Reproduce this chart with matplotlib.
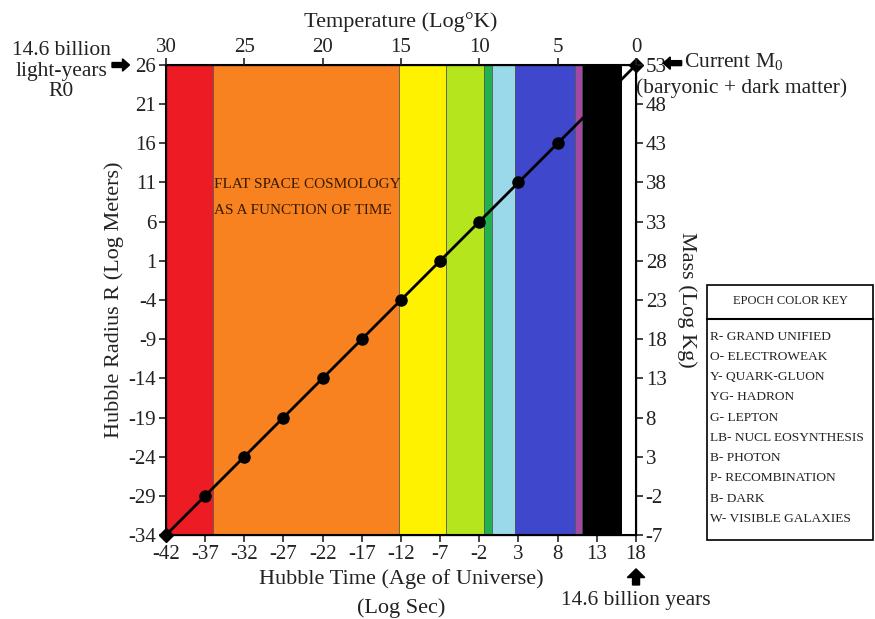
import numpy as np
import matplotlib.pyplot as plt
from matplotlib.patches import FancyArrow

plt.rcParams['font.family'] = ['Liberation Serif', 'DejaVu Serif']
plt.rcParams['axes.unicode_minus'] = False
plt.rcParams['mathtext.fontset'] = 'custom'
plt.rcParams['mathtext.rm'] = 'Liberation Serif'

# Epochen-Baender (Log Sec)
band_edges = [-42, -36, -12.3, -6.3, -1.4, -0.4, 2.6, 10.2, 11.1, 16.2, 18]
band_colors = ['#ed1c24', '#f7821f', '#fff200', '#b5e51d', '#22b14c',
               '#99d9ea', '#3f48cc', '#a349a4', '#000000', '#ffffff']

# Datenpunkte
t_pts = [-37, -32, -27, -22, -17, -12, -7, -2, 3, 8]
r_pts = [-29, -24, -19, -14, -9, -4, 1, 6, 11, 16]
t_ends = [-42, 18]
r_ends = [-34, 26]

x_ticks = [-42, -37, -32, -27, -22, -17, -12, -7, -2, 3, 8, 13, 18]
y_ticks = list(range(-34, 27, 5))
m_ticks = list(range(-7, 54, 5))
temp_ticks = [30, 25, 20, 15, 10, 5, 0]

key_lines = ['R- GRAND UNIFIED', 'O- ELECTROWEAK', 'Y- QUARK-GLUON', 'YG- HADRON',
             'G- LEPTON', 'LB- NUCL EOSYNTHESIS', 'B- PHOTON', 'P- RECOMBINATION',
             'B- DARK', 'W- VISIBLE GALAXIES']

txt = '#222222'
fig = plt.figure(figsize=(8.75, 6.19), dpi=100)
ax = fig.add_axes([0.1897, 0.1357, 0.5371, 0.7593])

for i in range(len(band_colors)):
    ax.axvspan(band_edges[i], band_edges[i + 1], color=band_colors[i], lw=0)
    if 0 < i < len(band_colors) - 1:
        ax.axvline(band_edges[i], color='#555555', lw=0.6)

ax.plot(t_ends, r_ends, color='black', lw=2, zorder=3)
ax.plot(t_pts, r_pts, 'o', color='black', ms=8, zorder=4)
ax.plot(t_ends, r_ends, 'D', color='black', ms=7, zorder=4, clip_on=False)

ax.set_xlim(-42, 18)
ax.set_ylim(-34, 26)
ax.set_xticks(x_ticks)
ax.set_yticks(y_ticks)
ax.tick_params(labelsize=15, colors=txt, length=5, width=1.2, pad=2)
ax.set_ylabel('Hubble Radius R (Log Meters)', fontsize=16, color=txt, labelpad=3)
ax.set_xlabel('Hubble Time (Age of Universe)\n(Log Sec)', fontsize=16, color=txt,
              linespacing=1.6, labelpad=4)
for s in ax.spines.values():
    s.set_linewidth(1.5)

axr = ax.twinx()
axr.set_ylim(-7, 53)
axr.set_yticks(m_ticks)
axr.tick_params(labelsize=15, colors=txt, length=5, width=1.2, pad=2)
axr.set_ylabel('Mass (Log Kg)', fontsize=16, color=txt, rotation=-90, labelpad=22)

axt = ax.twiny()
axt.set_xlim(30, 0)
axt.set_xticks(temp_ticks)
axt.tick_params(labelsize=15, colors=txt, length=5, width=1.2, pad=1)
axt.set_xlabel('Temperature (Log°K)', fontsize=16, color=txt, labelpad=8)

ax.text(-35.9, 10.7, 'FLAT SPACE COSMOLOGY', fontsize=11, color='#3a1a00', va='center')
ax.text(-35.9, 7.4, 'AS A FUNCTION OF TIME', fontsize=11, color='#3a1a00', va='center')

# Pfeile und Anmerkungen
fig.text(0.07, 0.885, '14.6 billion\nlight-years\nR0', fontsize=15.5, color=txt,
         ha='center', va='center', linespacing=1.1)
fig.patches.append(FancyArrow(0.128, 0.895, 0.012, 0, width=0.008, head_width=0.02,
                              head_length=0.008, color='black', transform=fig.transFigure))
fig.text(0.782, 0.9, 'Current M$_0$', fontsize=15.5, color=txt, ha='left', va='center')
fig.text(0.727, 0.858, '(baryonic + dark matter)', fontsize=15.5, color=txt,
         ha='left', va='center')
fig.patches.append(FancyArrow(0.779, 0.898, -0.013, 0, width=0.008, head_width=0.02,
                              head_length=0.008, color='black', transform=fig.transFigure))
fig.patches.append(FancyArrow(0.7269, 0.055, 0, 0.012, width=0.008, head_width=0.02,
                              head_length=0.014, color='black', transform=fig.transFigure))
fig.text(0.7269, 0.03, '14.6 billion years', fontsize=15.5, color=txt, ha='center', va='center')

# Farbschluessel
kx0, kx1, ky0, ky1 = 0.808, 0.998, 0.128, 0.54
fig.patches.append(plt.Rectangle((kx0, ky0), kx1 - kx0, ky1 - ky0, fill=False,
                                 lw=1.2, ec='black', transform=fig.transFigure))
fig.lines.append(plt.Line2D([kx0, kx1], [0.485, 0.485], lw=1.5, color='black',
                            transform=fig.transFigure))
fig.text((kx0 + kx1) / 2, 0.513, 'EPOCH COLOR KEY', fontsize=9, color=txt,
         ha='center', va='center')
for k, line in enumerate(key_lines):
    fig.text(kx0 + 0.004, 0.456 - k * 0.0327, line, fontsize=9.6, color=txt,
             ha='left', va='center')

fig.savefig('out.png', dpi=100)
